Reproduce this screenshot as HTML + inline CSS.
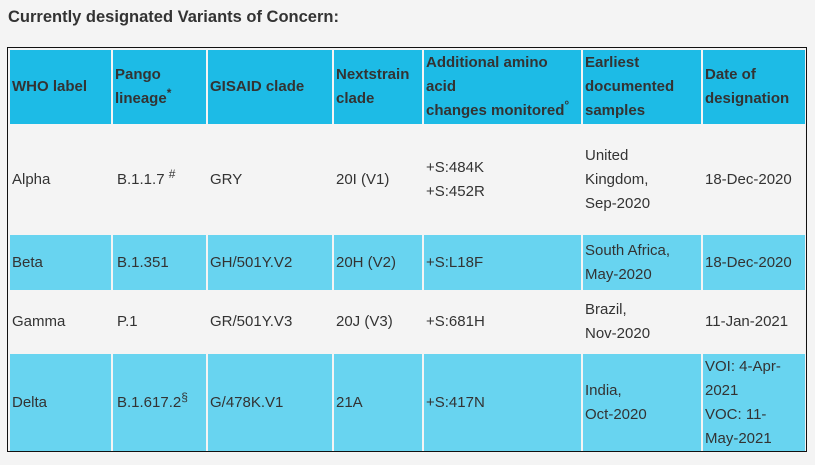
<!DOCTYPE html>
<html><head><style>
body{margin:0;background:#f4f4f4;width:815px;height:465px;overflow:hidden;font-family:"Liberation Sans",Arial,sans-serif;color:#333;position:relative}
h3{position:absolute;left:8px;top:8px;margin:0;font-size:16.5px;font-weight:bold;color:#333}
.border{position:absolute;left:7px;top:47px;width:800px;height:405px;border:1px solid #111;box-sizing:border-box}
.c{position:absolute;display:flex;align-items:center;box-sizing:border-box;padding-left:2px;font-size:15px;line-height:24px}
.h{background:#1dbbe6;font-weight:bold}
.b{background:#68d4f0}
sup{font-size:12px;line-height:0;vertical-align:6px}
</style></head><body>
<h3>Currently designated Variants of Concern:</h3>
<div class="border"></div>
<div id="t"></div>
<script>
var xs=[10,113,208,334,424,583,703],ws=[101,93,124,88,157,118,102];
var rows=[[50,74,'h',['WHO label','Pango<br>lineage<sup>*</sup>','GISAID clade','Nextstrain<br>clade','Additional amino<br>acid<br>changes monitored<sup>°</sup>','Earliest<br>documented<br>samples','Date of<br>designation']],
[126,107,'',['Alpha','B.1.1.7 <sup>#</sup>','GRY','20I (V1)','+S:484K<br>+S:452R','United<br>Kingdom,<br>Sep-2020','18-Dec-2020']],
[235,55,'b',['Beta','B.1.351','GH/501Y.V2','20H (V2)','+S:L18F','South Africa,<br>May-2020','18-Dec-2020']],
[292,59,'',['Gamma','P.1','GR/501Y.V3','20J (V3)','+S:681H','Brazil,<br>Nov-2020','11-Jan-2021']],
[354,97,'b',['Delta','B.1.617.2<sup>§</sup>','G/478K.V1','21A','+S:417N','India,<br>Oct-2020','VOI: 4-Apr-<br>2021<br>VOC: 11-<br>May-2021']]];
var h='';rows.forEach(function(r){for(var i=0;i<7;i++){var pl=(i==1&&r[2]!='h')?'padding-left:4px;':'';h+='<div class="c '+r[2]+'" style="'+pl+'left:'+xs[i]+'px;top:'+r[0]+'px;width:'+ws[i]+'px;height:'+r[1]+'px"><div>'+r[3][i]+'</div></div>';}});
document.getElementById('t').innerHTML=h;
</script>
</body></html>
